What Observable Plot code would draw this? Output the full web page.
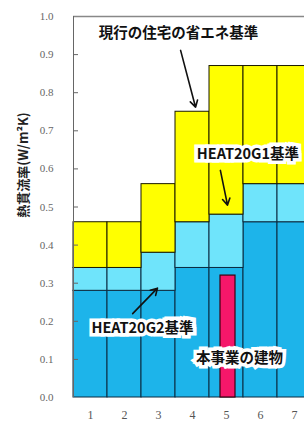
<!DOCTYPE html>
<html><head><meta charset="utf-8">
<script src="https://cdn.jsdelivr.net/npm/d3@7"></script>
<script src="https://cdn.jsdelivr.net/npm/@observablehq/plot@0.6"></script>
<style>body{margin:0;background:#fff;overflow:hidden}</style>
</head><body><div id="chart"></div>
<script>
const cases = [1, 2, 3, 4, 5, 6, 7];
const g2 = [0.28, 0.28, 0.28, 0.34, 0.34, 0.46, 0.46];
const g1 = [0.34, 0.34, 0.38, 0.46, 0.48, 0.56, 0.56];
const current = [0.46, 0.46, 0.56, 0.75, 0.87, 0.87, 0.87];
const projectCase = 5;
const projectValue = 0.32;
const yTicks = [0, 0.1, 0.2, 0.3, 0.4, 0.5, 0.6, 0.7, 0.8, 0.9, 1.0];
const yLabel = "熱貫流率(W/m²K)";
const notes = [
  {text: "現行の住宅の省エネ基準", x: 3.59, y: 0.955},
  {text: "HEAT20G1基準", x: 5.63, y: 0.638},
  {text: "HEAT20G2基準", x: 2.53, y: 0.181},
  {text: "本事業の建物", x: 5.38, y: 0.102}
];
const arrows = [
  {x1: 3.65, y1: 0.911, x2: 4.09, y2: 0.762},
  {x1: 4.82, y1: 0.596, x2: 5.03, y2: 0.505},
  {x1: 2.24, y1: 0.22, x2: 2.97, y2: 0.287}
];

const rows = cases.map((c, i) => ({c, g2: g2[i], g1: g1[i], cur: current[i]}));
const font = "'Noto Sans CJK JP', sans-serif";
const serif = "'Liberation Serif', 'DejaVu Serif', serif";

const chart = Plot.plot({
  width: 304, height: 426,
  marginLeft: 73, marginRight: -7, marginTop: 16, marginBottom: 29,
  style: {background: "#fff", overflow: "hidden"},
  x: {type: "linear", domain: [0.5, 7.5]},
  y: {domain: [0, 1]},
  marks: [
    Plot.rectY(rows, {x1: d => d.c - 0.5, x2: d => d.c + 0.5, y1: 0, y2: "g2", fill: "#1db4ea", stroke: "#0a2a40", strokeWidth: 1}),
    Plot.rectY(rows, {x1: d => d.c - 0.5, x2: d => d.c + 0.5, y1: "g2", y2: "g1", fill: "#6fe4fb", stroke: "#0a2a40", strokeWidth: 1}),
    Plot.rectY(rows, {x1: d => d.c - 0.5, x2: d => d.c + 0.5, y1: "g1", y2: "cur", fill: "#ffff00", stroke: "#1a1a00", strokeWidth: 1}),
    Plot.rectY([projectValue], {x1: projectCase - 0.5, x2: projectCase + 0.5, y1: 0, y2: d => d, insetLeft: 11, insetRight: 8, fill: "#f5176a", stroke: "#3a0010", strokeWidth: 1.2}),
    Plot.ruleY([1], {stroke: "#888", strokeWidth: 1.5}),
    Plot.ruleX([0.5], {stroke: "#666", strokeWidth: 1}),
    Plot.axisY({ticks: yTicks.slice(1, -1), tickSize: -5, tickFormat: () => "", stroke: "#666", label: null}),
    Plot.axisY({ticks: yTicks, tickSize: 0, tickPadding: 20, tickFormat: d3.format(".1f"), fontSize: 11, fontFamily: serif, fill: "#666", label: null}),
    Plot.axisX({ticks: cases, tickSize: 0, tickPadding: 13, tickFormat: d => String(d), fontSize: 12, fontFamily: serif, fill: "#555", label: null}),
    Plot.arrow(arrows, {x1: "x1", y1: "y1", x2: "x2", y2: "y2", stroke: "#111", strokeWidth: 1.6, headLength: 7, bend: false}),
    Plot.text(notes, {x: "x", y: "y", text: "text", fontSize: 14.5, fontWeight: "bold", fontFamily: font, fill: "#111", stroke: "#fff", strokeWidth: 7, strokeLinejoin: "miter", paintOrder: "stroke"}),
    Plot.text([yLabel], {frameAnchor: "left", textAnchor: "middle", dx: -50, dy: -42, rotate: -90, fontSize: 13, fontWeight: "bold", fontFamily: font, fill: "#222"})
  ]
});
document.getElementById("chart").append(chart);
</script></body></html>
